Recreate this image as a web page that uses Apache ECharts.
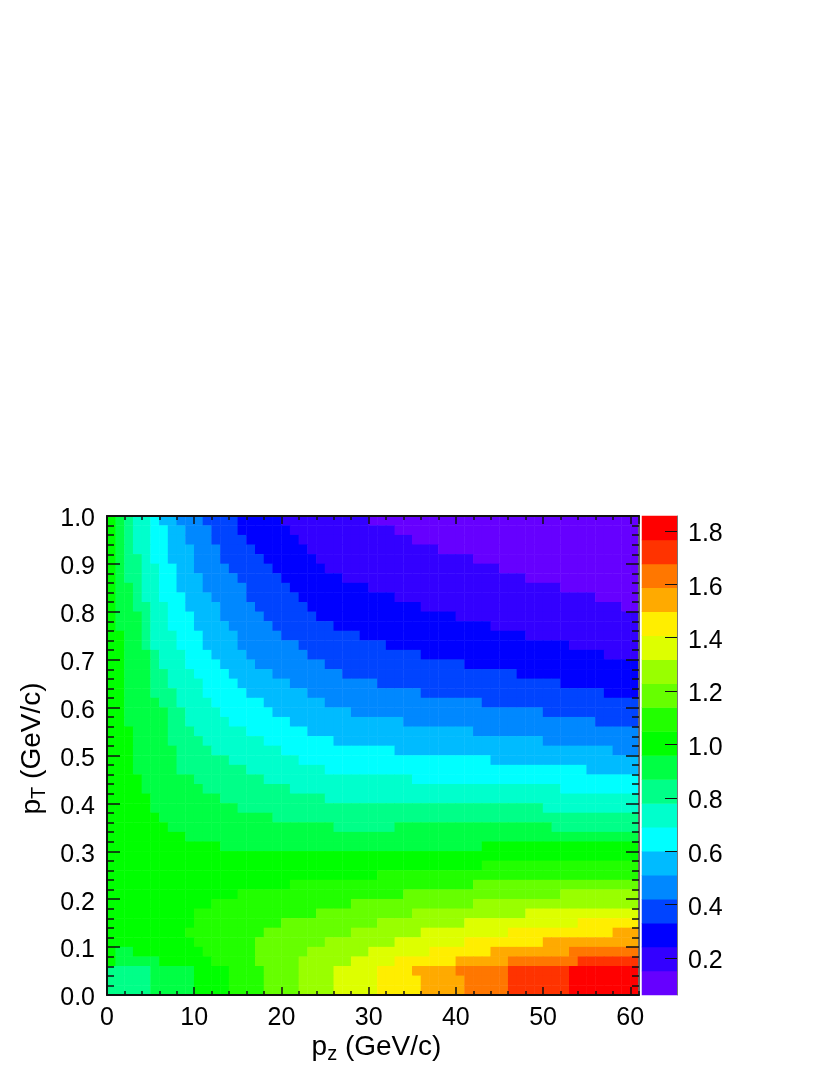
<!DOCTYPE html>
<html>
<head>
<meta charset="utf-8">
<style>
  html, body { margin: 0; padding: 0; background: #fff; }
  #main { width: 830px; height: 1075px; }
</style>
</head>
<body>
<div id="main"></div>
<script src="https://cdn.jsdelivr.net/npm/echarts@6/dist/echarts.min.js"></script>
<script>
// colour bands, bottom of the palette first
var bandColors = ["#6600ff", "#3300ff", "#0000ff", "#0044ff", "#0088ff", "#00bbff", "#00ffff", "#00ffcc", "#00ff88", "#00ff44",
  "#00ff00", "#22ff00", "#66ff00", "#99ff00", "#ddff00", "#ffee00", "#ffaa00", "#ff7700", "#ff3300", "#ff0000"];
var bandValues = [0.106, 0.195, 0.285, 0.375, 0.465, 0.555, 0.645, 0.734, 0.824, 0.914,
  1.004, 1.094, 1.183, 1.273, 1.363, 1.453, 1.543, 1.632, 1.722, 1.812];
var barTicks = [0.2, 0.4, 0.6, 0.8, 1.0, 1.2, 1.4, 1.6, 1.8];
var pzBins = 61;
var ptBins = 50;

// one line per pT row, top row first: "startColumn:band" runs
var rowRuns = [
  "0:10 1:9 2:8 3:7 5:6 6:5 8:4 11:3 15:2 20:1 30:0",
  "0:10 1:9 2:8 3:7 5:6 7:5 9:4 12:3 15:2 21:1 33:0",
  "0:10 1:9 2:8 3:7 5:6 7:5 9:4 12:3 16:2 22:1 35:0",
  "0:10 1:9 2:8 3:7 5:6 7:5 10:4 13:3 17:2 23:1 38:0",
  "0:10 1:9 2:8 4:7 5:6 7:5 10:4 13:3 18:2 24:1 42:0",
  "0:10 1:9 2:8 4:7 6:6 8:5 10:4 14:3 19:2 25:1 45:0",
  "0:10 1:9 2:8 4:7 6:6 8:5 11:4 15:3 20:2 27:1 48:0",
  "0:10 1:9 3:8 4:7 6:6 8:5 11:4 16:3 21:2 30:1 52:0",
  "0:10 1:9 3:8 4:7 6:6 9:5 12:4 16:3 22:2 33:1 56:0",
  "0:10 1:9 3:8 5:7 7:6 9:5 13:4 17:3 23:2 36:1 59:0",
  "0:10 1:9 4:8 5:7 7:6 10:5 13:4 18:3 24:2 40:1",
  "0:10 1:9 4:8 5:7 7:6 10:5 14:4 19:3 26:2 44:1",
  "0:10 2:9 4:8 5:7 8:6 11:5 15:4 20:3 29:2 48:1",
  "0:10 2:9 4:8 5:7 8:6 11:5 15:4 22:3 32:2 53:1",
  "0:10 2:9 5:8 6:7 9:6 12:5 16:4 23:3 36:2 57:1",
  "0:10 2:9 5:8 6:7 9:6 13:5 17:4 25:3 41:2",
  "0:10 2:9 5:8 7:7 10:6 14:5 19:4 27:3 47:2",
  "0:10 2:9 5:8 7:7 11:6 15:5 21:4 31:3 52:2",
  "0:10 2:9 5:8 8:7 11:6 16:5 23:4 36:3 57:2",
  "0:10 2:9 6:8 8:7 12:6 18:5 25:4 43:3",
  "0:10 2:9 7:8 9:7 13:6 19:5 28:4 50:3",
  "0:10 2:9 7:8 9:7 14:6 21:5 34:4 56:3",
  "0:10 3:9 7:8 10:7 16:6 23:5 42:4",
  "0:10 3:9 7:8 11:7 18:6 26:5 50:4",
  "0:10 3:9 8:8 12:7 20:6 33:5 58:4",
  "0:10 3:9 8:8 14:7 22:6 44:5",
  "0:10 3:9 8:8 16:7 25:6 55:5",
  "0:10 4:9 10:8 18:7 35:6",
  "0:10 4:9 11:8 21:7 52:6",
  "0:10 5:9 13:8 25:7",
  "0:10 5:9 15:8 50:7",
  "0:10 6:9 19:8",
  "0:10 7:9 26:8 33:9 51:8",
  "0:10 9:9",
  "0:10 13:9 43:10",
  "0:10",
  "0:10 43:11",
  "0:10 31:11",
  "0:10 21:11 42:12",
  "0:10 15:11 34:12 52:13",
  "0:10 12:11 28:12 42:13",
  "0:10 10:11 24:12 35:13 48:14",
  "0:10 10:11 20:12 31:13 41:14 54:15",
  "0:10 9:11 18:12 28:13 36:14 46:15 58:16",
  "0:10 10:11 17:12 25:13 33:14 41:15 50:16",
  "0:10 1:9 3:10 11:11 17:12 23:13 30:14 37:15 44:16 53:17",
  "0:10 1:9 6:10 12:11 17:12 22:13 28:14 33:15 40:16 46:17 54:18",
  "0:8 5:9 10:10 14:11 18:12 22:13 26:14 31:15 35:16 40:17 46:18 53:19",
  "0:8 5:9 10:10 14:11 18:12 22:13 26:14 31:15 36:16 41:17 46:18 53:19",
  "0:8 5:9 10:10 14:11 18:12 22:13 26:14 31:15 36:16 41:17 46:18 53:19"
];

var pzCats = [];
var ptCats = [];
var cells = [];
var i;
for (i = 0; i < pzBins; i++) pzCats.push(i);
for (i = 0; i < ptBins; i++) ptCats.push(i);

rowRuns.forEach(function (line, r) {
  var runs = line.split(" ").map(function (s) {
    return s.split(":").map(Number);
  });
  for (var k = 0; k < runs.length; k++) {
    var end = k + 1 < runs.length ? runs[k + 1][0] : pzBins;
    for (var c = runs[k][0]; c < end; c++) {
      cells.push([c, ptBins - 1 - r, bandValues[runs[k][1]]]);
    }
  }
});

var barCats = [];
var barCells = [];
bandValues.forEach(function (v, idx) {
  barCats.push(idx);
  barCells.push([0, idx, v]);
});

var labelFont = { fontFamily: "Liberation Sans", fontSize: 25, color: "#000" };
var titleRich = {
  t: { fontFamily: "Liberation Sans", fontSize: 28, color: "#000" },
  s: { fontFamily: "Liberation Sans", fontSize: 20, color: "#000", padding: [14, 0, 0, 0] }
};
var hiddenCat = { type: "category", show: false };

// frame + ticks of the main plot, x axis
function pzAxis(position, tickLen, interval, withLine, withLabel) {
  return {
    type: "value",
    gridIndex: 0,
    position: position,
    z: 5,
    min: 0,
    max: 61,
    interval: interval,
    splitLine: { show: false },
    axisLine: { show: withLine, onZero: false, lineStyle: { color: "#111", width: 2 } },
    axisTick: { show: true, inside: true, length: tickLen, lineStyle: { color: "#111", width: 1.5 } },
    axisLabel: Object.assign({ show: withLabel, margin: 11, showMaxLabel: false }, labelFont)
  };
}

function ptAxis(position, withLabel) {
  return {
    type: "value",
    gridIndex: 0,
    position: position,
    z: 5,
    min: 0,
    max: 1,
    interval: 0.1,
    splitLine: { show: false },
    axisLine: { show: true, onZero: false, lineStyle: { color: position === "left" ? "#111" : "#666", width: 2 } },
    axisTick: { show: true, inside: true, length: 13, lineStyle: { color: "#111", width: 1.5 } },
    minorTick: { show: true, splitNumber: 5, length: 7, lineStyle: { color: "#111", width: 1.5 } },
    axisLabel: Object.assign({
      show: withLabel,
      margin: 12,
      verticalAlign: "top",
      lineHeight: 7,
      formatter: function (v) { return v.toFixed(1); }
    }, labelFont)
  };
}

var xAxes = [
  Object.assign({}, hiddenCat, { gridIndex: 0, data: pzCats }),
  pzAxis("bottom", 8, 10, true, true),
  pzAxis("bottom", 4, 2, false, false),
  pzAxis("top", 8, 10, true, false),
  pzAxis("top", 4, 2, false, false),
  Object.assign({}, hiddenCat, { gridIndex: 1, data: [0] })
];
xAxes[1].name = "{t|p}{s|z}{t| (GeV/c)}";
xAxes[1].nameLocation = "middle";
xAxes[1].nameGap = 35;
xAxes[1].nameTextStyle = { rich: titleRich, padding: [0, 0, 0, 7] };

var yAxes = [
  Object.assign({}, hiddenCat, { gridIndex: 0, data: ptCats }),
  ptAxis("left", true),
  ptAxis("right", false),
  Object.assign({}, hiddenCat, { gridIndex: 1, data: barCats }),
  {
    type: "value",
    gridIndex: 1,
    position: "right",
    z: 5,
    min: 0.061,
    max: 1.856,
    splitLine: { show: false },
    axisLine: { show: true, onZero: false, lineStyle: { color: "#777", width: 1 } },
    axisTick: { show: true, inside: true, length: 12, customValues: barTicks, lineStyle: { color: "#111", width: 1 } },
    axisLabel: Object.assign({
      margin: 11,
      verticalAlign: "top",
      lineHeight: 7,
      customValues: barTicks,
      formatter: function (v) { return v.toFixed(1); }
    }, labelFont)
  }
];
yAxes[1].name = "{t|p}{s|T}{t| (GeV/c)}";
yAxes[1].nameLocation = "middle";
yAxes[1].nameRotate = 90;
yAxes[1].nameGap = 54;
yAxes[1].nameTextStyle = { rich: titleRich, padding: [0, 0, 0, 14] };

var chart = echarts.init(document.getElementById("main"), null, { renderer: "canvas" });
chart.setOption({
  animation: false,
  backgroundColor: "#fff",
  tooltip: { show: false },
  grid: [
    { left: 107, top: 516, width: 532, height: 479, outerBoundsMode: "none" },
    { left: 642, top: 516, width: 35, height: 479, outerBoundsMode: "none" }
  ],
  xAxis: xAxes,
  yAxis: yAxes,
  visualMap: {
    show: false,
    type: "piecewise",
    seriesIndex: [0, 1],
    pieces: bandValues.map(function (v, idx) {
      return { gte: v - 0.04, lt: v + 0.04, color: bandColors[idx] };
    })
  },
  series: [
    {
      type: "heatmap",
      xAxisIndex: 0,
      yAxisIndex: 0,
      data: cells,
      progressive: 0,
      silent: true
    },
    {
      type: "heatmap",
      xAxisIndex: 5,
      yAxisIndex: 3,
      data: barCells,
      silent: true
    }
  ]
});
</script>
</body>
</html>
